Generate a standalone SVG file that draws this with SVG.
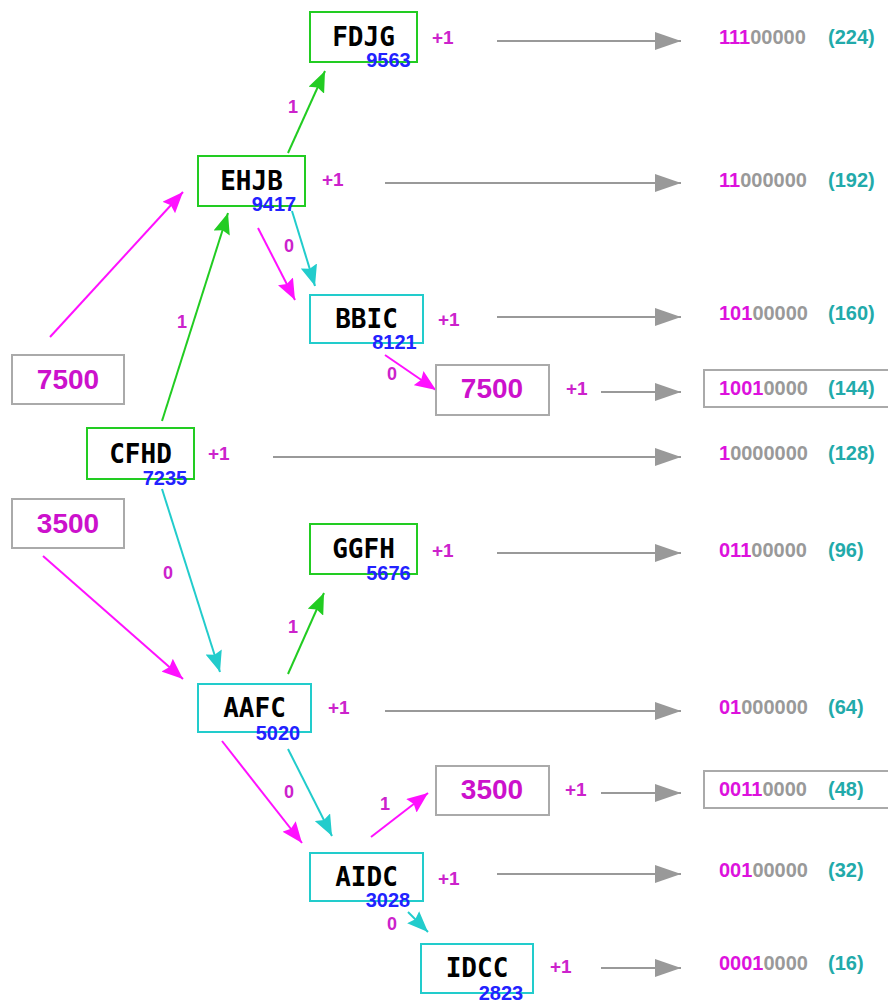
<svg xmlns="http://www.w3.org/2000/svg" width="888" height="1003" viewBox="0 0 888 1003">
  <style>
    .node rect { fill: #ffffff; stroke-width: 2; }
    .g rect { stroke: #22cc22; }
    .c rect { stroke: #22cccc; }
    .val rect { fill: #ffffff; stroke: #aaaaaa; stroke-width: 2; }
    .name { font-family: "DejaVu Sans Mono", "Liberation Mono", monospace; font-weight: bold; font-size: 26px; fill: #000000; text-anchor: middle; }
    .num { font-family: "Liberation Sans", Arial, sans-serif; font-weight: bold; font-size: 20px; fill: #2222ff; text-anchor: middle; }
    .big { font-family: "Liberation Sans", Arial, sans-serif; font-weight: bold; font-size: 28px; fill: #cc11cc; text-anchor: middle; }
    .inc { font-family: "Liberation Sans", Arial, sans-serif; font-weight: bold; font-size: 19px; fill: #cc22cc; }
    .lbl { font-family: "Liberation Sans", Arial, sans-serif; font-weight: bold; font-size: 18px; fill: #cc22cc; text-anchor: middle; }
    .bits { font-family: "Liberation Sans", Arial, sans-serif; font-weight: bold; font-size: 20px; fill: #999999; }
    .bits .on { fill: #dd11dd; }
    .dec { font-family: "Liberation Sans", Arial, sans-serif; font-weight: bold; font-size: 20px; fill: #22aaaa; }
    .edge { fill: none; stroke-width: 2; }
    .eg { stroke: #22cc22; marker-end: url(#ah-g); }
    .ec { stroke: #22cccc; marker-end: url(#ah-c); }
    .em { stroke: #ff11ff; marker-end: url(#ah-m); }
    .out { stroke: #999999; stroke-width: 2; marker-end: url(#ah-gray); }
    .hl { fill: #ffffff; stroke: #aaaaaa; stroke-width: 2; }
  </style>
  <defs>
    <marker id="ah-g" markerUnits="userSpaceOnUse" markerWidth="21" markerHeight="17" refX="21" refY="8.5" orient="auto">
      <path d="M0,0 L21,8.5 L0,17 L3,8.5 z" fill="#22cc22"/>
    </marker>
    <marker id="ah-c" markerUnits="userSpaceOnUse" markerWidth="21" markerHeight="17" refX="21" refY="8.5" orient="auto">
      <path d="M0,0 L21,8.5 L0,17 L3,8.5 z" fill="#22cccc"/>
    </marker>
    <marker id="ah-m" markerUnits="userSpaceOnUse" markerWidth="21" markerHeight="17" refX="21" refY="8.5" orient="auto">
      <path d="M0,0 L21,8.5 L0,17 L3,8.5 z" fill="#ff11ff"/>
    </marker>
    <marker id="ah-gray" markerUnits="userSpaceOnUse" markerWidth="26" markerHeight="18" refX="26" refY="9" orient="auto">
      <path d="M0,0 L26,9 L0,18 z" fill="#999999"/>
    </marker>
  </defs>

  <rect width="888" height="1003" fill="#ffffff"/>

  <!-- connectors -->
  <g id="connectors">
    <line class="edge eg" x1="288" y1="153" x2="325" y2="71"/>
    <line class="edge eg" x1="162" y1="421" x2="228" y2="213"/>
    <line class="edge em" x1="50" y1="337" x2="183" y2="192"/>
    <line class="edge em" x1="258" y1="228" x2="295" y2="300"/>
    <line class="edge ec" x1="292" y1="211" x2="315" y2="286"/>
    <line class="edge em" x1="385" y1="355" x2="436" y2="390"/>
    <line class="edge ec" x1="162" y1="489" x2="220" y2="672"/>
    <line class="edge em" x1="43" y1="556" x2="183" y2="679"/>
    <line class="edge eg" x1="288" y1="674" x2="324" y2="593"/>
    <line class="edge em" x1="222" y1="741" x2="302" y2="843"/>
    <line class="edge ec" x1="288" y1="749" x2="332" y2="836"/>
    <line class="edge em" x1="371" y1="837" x2="428" y2="793"/>
    <line class="edge ec" x1="408" y1="912" x2="428" y2="932"/>

    <text class="lbl" x="293" y="113">1</text>
    <text class="lbl" x="182" y="328">1</text>
    <text class="lbl" x="289" y="252">0</text>
    <text class="lbl" x="392" y="380">0</text>
    <text class="lbl" x="168" y="579">0</text>
    <text class="lbl" x="293" y="633">1</text>
    <text class="lbl" x="289" y="798">0</text>
    <text class="lbl" x="385" y="810">1</text>
    <text class="lbl" x="392" y="930">0</text>

    <!-- outputs -->
    <line class="out" x1="497" y1="41" x2="681" y2="41"/>
    <line class="out" x1="385" y1="183" x2="681" y2="183"/>
    <line class="out" x1="497" y1="317" x2="681" y2="317"/>
    <line class="out" x1="601" y1="392" x2="681" y2="392"/>
    <line class="out" x1="273" y1="457" x2="681" y2="457"/>
    <line class="out" x1="497" y1="553" x2="681" y2="553"/>
    <line class="out" x1="385" y1="711" x2="681" y2="711"/>
    <line class="out" x1="601" y1="793" x2="681" y2="793"/>
    <line class="out" x1="497" y1="874" x2="681" y2="874"/>
    <line class="out" x1="601" y1="968" x2="681" y2="968"/>
  </g>

  <!-- start values -->
  <g id="v7500a" class="val">
    <rect x="12" y="355" width="112" height="49"/>
    <text class="big" x="68" y="389">7500</text>
  </g>
  <g id="v3500a" class="val">
    <rect x="12" y="499" width="112" height="49"/>
    <text class="big" x="68" y="533">3500</text>
  </g>

  <!-- tree nodes -->
  <g id="FDJG" class="node g">
    <rect x="310" y="12" width="107" height="50"/>
    <text class="name" x="363.5" y="46">FDJG</text>
    <text class="num" x="388.5" y="67">9563</text>
    <text class="inc" x="432" y="44">+1</text>
  </g>
  <g id="EHJB" class="node g">
    <rect x="198" y="156" width="107" height="50"/>
    <text class="name" x="251.5" y="190">EHJB</text>
    <text class="num" x="274" y="211">9417</text>
    <text class="inc" x="322" y="186">+1</text>
  </g>
  <g id="BBIC" class="node c">
    <rect x="310" y="295" width="113" height="48"/>
    <text class="name" x="366.5" y="328">BBIC</text>
    <text class="num" x="394.5" y="349">8121</text>
    <text class="inc" x="438" y="326">+1</text>
  </g>
  <g id="v7500b" class="val">
    <rect x="436" y="365" width="113" height="50"/>
    <text class="big" x="492" y="398">7500</text>
    <text class="inc" x="566" y="395">+1</text>
  </g>
  <g id="CFHD" class="node g">
    <rect x="87" y="428" width="107" height="51"/>
    <text class="name" x="140.5" y="463">CFHD</text>
    <text class="num" x="165" y="485">7235</text>
    <text class="inc" x="208" y="460">+1</text>
  </g>
  <g id="GGFH" class="node g">
    <rect x="310" y="524" width="107" height="50"/>
    <text class="name" x="363.5" y="558">GGFH</text>
    <text class="num" x="388.5" y="580">5676</text>
    <text class="inc" x="432" y="557">+1</text>
  </g>
  <g id="AAFC" class="node c">
    <rect x="198" y="684" width="113" height="48"/>
    <text class="name" x="254.5" y="717">AAFC</text>
    <text class="num" x="278" y="740">5020</text>
    <text class="inc" x="328" y="714">+1</text>
  </g>
  <g id="v3500b" class="val">
    <rect x="436" y="766" width="113" height="49"/>
    <text class="big" x="492" y="799">3500</text>
    <text class="inc" x="565" y="796">+1</text>
  </g>
  <g id="AIDC" class="node c">
    <rect x="310" y="853" width="113" height="48"/>
    <text class="name" x="366.5" y="886">AIDC</text>
    <text class="num" x="388" y="907">3028</text>
    <text class="inc" x="438" y="885">+1</text>
  </g>
  <g id="IDCC" class="node c">
    <rect x="421" y="944" width="112" height="49"/>
    <text class="name" x="477" y="977">IDCC</text>
    <text class="num" x="501" y="1000">2823</text>
    <text class="inc" x="550" y="973">+1</text>
  </g>

  <!-- resulting codes -->
  <g id="codes">
    <rect class="hl" x="704" y="370" width="190" height="37"/>
    <rect class="hl" x="704" y="771" width="190" height="37"/>
    <text class="bits" x="719" y="44"><tspan class="on">111</tspan>00000</text>
    <text class="dec" x="828" y="44">(224)</text>
    <text class="bits" x="719" y="187"><tspan class="on">11</tspan>000000</text>
    <text class="dec" x="828" y="187">(192)</text>
    <text class="bits" x="719" y="320"><tspan class="on">101</tspan>00000</text>
    <text class="dec" x="828" y="320">(160)</text>
    <text class="bits" x="719" y="395"><tspan class="on">1001</tspan>0000</text>
    <text class="dec" x="828" y="395">(144)</text>
    <text class="bits" x="719" y="460"><tspan class="on">1</tspan>0000000</text>
    <text class="dec" x="828" y="460">(128)</text>
    <text class="bits" x="719" y="557"><tspan class="on">011</tspan>00000</text>
    <text class="dec" x="828" y="557">(96)</text>
    <text class="bits" x="719" y="714"><tspan class="on">01</tspan>000000</text>
    <text class="dec" x="828" y="714">(64)</text>
    <text class="bits" x="719" y="796"><tspan class="on">0011</tspan>0000</text>
    <text class="dec" x="828" y="796">(48)</text>
    <text class="bits" x="719" y="877"><tspan class="on">001</tspan>00000</text>
    <text class="dec" x="828" y="877">(32)</text>
    <text class="bits" x="719" y="970"><tspan class="on">0001</tspan>0000</text>
    <text class="dec" x="828" y="970">(16)</text>
  </g>
</svg>
